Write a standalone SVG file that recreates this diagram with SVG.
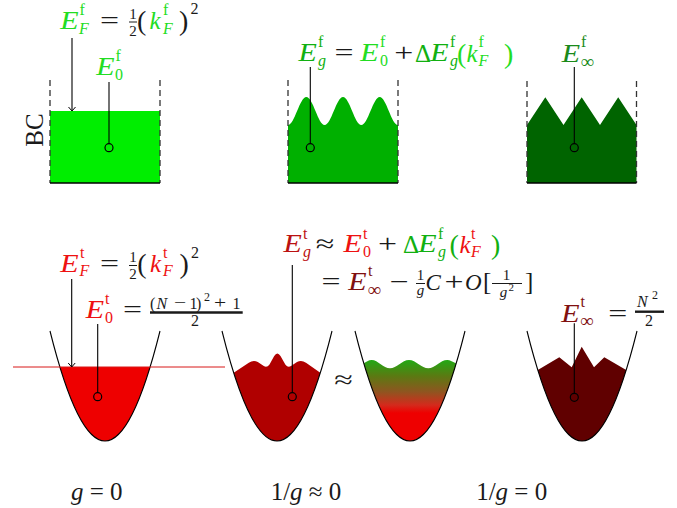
<svg xmlns="http://www.w3.org/2000/svg" width="677" height="508" viewBox="0 0 677 508">
<style>
text{font-family:"Liberation Serif","Times New Roman",serif;font-size:25px;fill:#1a1a1a}
.s{font-size:16px}
.f{font-size:15px}
.p{font-size:28px}
.inf{font-size:19px}
.c{font-size:23px}
.i{font-style:italic}
.w{transform-box:fill-box;transform-origin:left center;transform:scaleX(1.2)}
.o{transform-box:fill-box;transform-origin:center;transform:scaleX(1.35)}
.g1{fill:#22dd22}.g2{fill:#11b011}.g3{fill:#1a8a1a}
.r1{fill:#ee1111}.r2{fill:#bb1111}.r3{fill:#801010}
.dash{stroke:#333;stroke-width:1.3;stroke-dasharray:6 4;fill:none}
.base{stroke:#000;stroke-width:1.4}
.ln{stroke:#000;stroke-width:1.1;fill:none}
.dot{fill:none;stroke:#000;stroke-width:1.2}
.bar{stroke:#1a1a1a;stroke-width:1}
.tbar{stroke:#1a1a1a;stroke-width:2.4}
.well{fill:none;stroke:#000;stroke-width:1.1}
</style>
<defs>
<marker id="ah" markerWidth="10" markerHeight="10" refX="5" refY="5" orient="auto" markerUnits="userSpaceOnUse">
<path d="M1 1.5 L5 5 L1 8.5" fill="none" stroke="#000" stroke-width="1"/>
</marker>
<linearGradient id="grad" gradientUnits="userSpaceOnUse" x1="0" y1="360" x2="0" y2="413">
<stop offset="0" stop-color="#22a815"/>
<stop offset="0.3" stop-color="#5a7a12"/>
<stop offset="0.6" stop-color="#8f5520"/>
<stop offset="0.85" stop-color="#d42a1c"/>
<stop offset="1" stop-color="#ee0000"/>
</linearGradient>
</defs>

<text x="42.5" y="130" text-anchor="middle" transform="rotate(-90 42.5 130)">BC</text>

<g id="box-free">
<rect x="50" y="111" width="110" height="72" fill="#00ee00"/>
<line class="dash" x1="50" y1="80" x2="50" y2="183"/>
<line class="dash" x1="160" y1="80" x2="160" y2="183"/>
<line class="base" x1="50" y1="183" x2="160" y2="183"/>
<text class="i g1 w" x="60" y="29">E</text><text class="s g1" x="79.5" y="15">f</text><text class="s i g1" x="79" y="34">F</text>
<text class="o" x="109.5" y="29" text-anchor="middle">=</text>
<text class="f" x="133" y="19" text-anchor="middle">1</text><line class="bar" x1="129" y1="22" x2="137" y2="22"/><text class="f" x="133" y="36" text-anchor="middle">2</text>
<text class="p" x="137" y="30">(</text><text class="i g1" x="149.5" y="29">k</text><text class="s g1" x="163" y="15">f</text><text class="s i g1" x="163" y="34">F</text><text class="p" x="179" y="30">)</text><text class="s" x="190.5" y="14">2</text>
<text class="i g1 w" x="96" y="75">E</text><text class="s g1" x="115.5" y="61">f</text><text class="s g1" x="115" y="80">0</text>
</g>

<g id="box-g">
<path d="M288 183 L288 125 C294.6 125 299.7 97 306.33 97 C313 97 318.1 125 324.67 125 C331.3 125 336.4 97 343 97 C349.6 97 354.7 125 361.33 125 C368 125 373.1 97 379.67 97 C386.3 97 391.4 125 398 125 L398 183 Z" fill="#00b000"/>
<line class="dash" x1="288" y1="80" x2="288" y2="183"/>
<line class="dash" x1="398" y1="80" x2="398" y2="183"/>
<line class="base" x1="288" y1="183" x2="398" y2="183"/>
<text class="i g2 w" x="298.3" y="61.5">E</text><text class="s g2" x="318" y="47">f</text><text class="s i g2" x="318" y="66">g</text>
<text class="o" x="344" y="61.5" text-anchor="middle">=</text>
<text class="i g1 w" x="360" y="61.5">E</text><text class="s g1" x="380" y="47">f</text><text class="s g1" x="380" y="66">0</text>
<text class="o" x="403.8" y="61.5" text-anchor="middle">+</text>
<text class="g2" x="415" y="61.5">Δ</text><text class="i g2 w" x="430" y="61.5">E</text><text class="s g2" x="450" y="47">f</text><text class="s i g2" x="450" y="66">g</text>
<text class="p g1" x="457" y="62.5">(</text><text class="i g1" x="466.5" y="61.5">k</text><text class="s g1" x="478.5" y="47">f</text><text class="s i g1" x="478.5" y="66">F</text><text class="p g1" x="504" y="62.5">)</text>
</g>

<g id="box-inf">
<path d="M527 183 L527 125 L545.3 97.3 L563.5 125 L581.7 97.3 L600 125 L618.2 97.3 L636.5 125 L636.5 183 Z" fill="#006400"/>
<line class="dash" x1="527" y1="81" x2="527" y2="183"/>
<line class="dash" x1="636.5" y1="81" x2="636.5" y2="183"/>
<line class="base" x1="527" y1="183" x2="636.5" y2="183"/>
<text class="i g3 w" x="561.5" y="61.7">E</text><text class="s g3" x="581" y="47">f</text><text class="inf g3" x="580.5" y="68">∞</text>
</g>

<g id="trap-free">
<path d="M59.89 367 Q105 515 150.11 367 Z" fill="#ee0000"/>
<path class="well" d="M50 331 Q105 551 160 331"/>
<line x1="13" y1="367" x2="225" y2="367" stroke="#d81818" stroke-width="1"/>
<text class="i r1 w" x="60" y="271.7">E</text><text class="s r1" x="80" y="258">t</text><text class="s i r1" x="79.5" y="276">F</text>
<text class="o" x="109.5" y="271.7" text-anchor="middle">=</text>
<text class="f" x="133" y="262" text-anchor="middle">1</text><line class="bar" x1="129" y1="265.5" x2="137" y2="265.5"/><text class="f" x="133" y="279" text-anchor="middle">2</text>
<text class="p" x="137.3" y="272.7">(</text><text class="i r1" x="150" y="271.7">k</text><text class="s r1" x="163" y="258">t</text><text class="s i r1" x="163" y="276">F</text><text class="p" x="179.5" y="272.7">)</text><text class="s" x="191" y="258">2</text>
<text class="i r1 w" x="85.5" y="318">E</text><text class="s r1" x="105" y="304">t</text><text class="s r1" x="105" y="323">0</text>
<text class="o" x="132.5" y="318" text-anchor="middle">=</text>
<text class="s" x="150" y="308.5">(</text><text class="s i" x="156.5" y="308.5">N</text><text class="s o" x="180" y="308.5" text-anchor="middle">−</text><text class="s" x="189.5" y="308.5">1</text><text class="s" x="196" y="308.5">)</text><text style="font-size:12px" x="204" y="301">2</text><text class="s o" x="220" y="308.5" text-anchor="middle">+</text><text class="s" x="232.5" y="308.5">1</text>
<line class="tbar" x1="150" y1="312.5" x2="242.7" y2="312.5"/>
<text class="s" x="195" y="326" text-anchor="middle">2</text>
</g>

<g id="trap-g">
<path d="M233.7 372.8 Q277 509.2 320.3 372.8 L306 362.8 Q301.5 359.5 297 362 L291 366 Q288 368.2 285.3 364.5 L280.5 356 Q277.3 350.8 274.2 356 L269.5 364.5 Q266.8 368.2 263.8 366 L257.8 362 Q253.3 359.5 248.8 362.8 Z" fill="#b00000"/>
<path class="well" d="M222 331 Q277 551 332 331"/>
<text class="i r2 w" x="283.3" y="252.5">E</text><text class="s r2" x="303" y="239">t</text><text class="s i r2" x="303" y="257">g</text>
<text class="o" x="325" y="252.5" text-anchor="middle">≈</text>
<text class="i r1 w" x="343.3" y="252.5">E</text><text class="s r1" x="363" y="239">t</text><text class="s r1" x="363" y="257">0</text>
<text class="o" x="387.5" y="252.5" text-anchor="middle">+</text>
<text class="g2" x="403" y="252.5">Δ</text><text class="i g2 w" x="418" y="252.5">E</text><text class="s g2" x="438" y="239">f</text><text class="s i g2" x="438" y="257">g</text>
<text class="p g2" x="449.5" y="253.5">(</text><text class="i r1" x="459.5" y="252.5">k</text><text class="s r1" x="471" y="239">t</text><text class="s i r1" x="471" y="257">F</text><text class="p g2" x="491" y="253.5">)</text>
<text class="o" x="331" y="290" text-anchor="middle">=</text>
<text class="i r3 w" x="348" y="290">E</text><text class="s r3" x="368" y="276">t</text><text class="inf r3" x="367.5" y="296">∞</text>
<text class="o" x="399" y="290" text-anchor="middle">−</text>
<text class="f" x="420.5" y="280" text-anchor="middle">1</text><line class="bar" x1="416" y1="283.5" x2="425" y2="283.5"/><text class="f i" x="420.5" y="295" text-anchor="middle">g</text>
<text class="i c" x="425.5" y="290">C</text>
<text class="o" x="454" y="290" text-anchor="middle">+</text>
<text class="i c" x="465" y="290">O</text>
<text x="483" y="290">[</text>
<text class="f" x="506.5" y="280" text-anchor="middle">1</text><line class="bar" x1="492" y1="283.5" x2="522" y2="283.5"/><text class="f i" x="503.5" y="297" text-anchor="middle">g</text><text style="font-size:11px" x="508.5" y="291">2</text>
<text x="525" y="290">]</text>
</g>

<text id="approx" class="o" x="343.5" y="388" text-anchor="middle">≈</text>

<g id="trap-mix">
<path d="M363.8 363.5 Q410 518.5 456.2 363.5 C453 362 450 360 447.3 360 C440 360 435 368.3 428.3 368.3 C421.6 368.3 416 360 409 360 C402 360 396.6 368.3 390 368.3 C383.4 368.3 378 360 371.7 360 C368.5 360 366 362 363.8 363.5 Z" fill="url(#grad)"/>
<path class="well" d="M355 331 Q410 551 465 331"/>
</g>

<g id="trap-inf">
<path d="M537.8 370 Q582 512 626.2 370 L604.3 357.3 L594 367.3 L581.7 346.7 L571.7 367.3 L559.3 357.3 Z" fill="#600000"/>
<path class="well" d="M527 331 Q582 551 637 331"/>
<text class="i r3 w" x="561" y="321.7">E</text><text class="s r3" x="580.5" y="307">t</text><text class="inf r3" x="580" y="327">∞</text>
<text class="o" x="617.8" y="321.7" text-anchor="middle">=</text>
<text class="s i" x="637" y="306.5">N</text><text style="font-size:12px" x="652" y="299">2</text>
<line class="tbar" x1="635" y1="311.7" x2="664" y2="311.7"/>
<text class="s" x="649" y="326" text-anchor="middle">2</text>
</g>

<g id="connectors">
<line class="ln" x1="72" y1="38" x2="72" y2="111" marker-end="url(#ah)"/>
<line class="ln" x1="109" y1="82" x2="109" y2="143.7"/>
<circle class="dot" cx="109" cy="147.7" r="4"/>
<line class="ln" x1="310.3" y1="67" x2="310.3" y2="143.7"/>
<circle class="dot" cx="310.3" cy="147.7" r="4"/>
<line class="ln" x1="574.3" y1="67" x2="574.3" y2="143.7"/>
<circle class="dot" cx="574.3" cy="147.7" r="4"/>
<line class="ln" x1="71.7" y1="279" x2="71.7" y2="367" marker-end="url(#ah)"/>
<line class="ln" x1="97.7" y1="324" x2="97.7" y2="392.7"/>
<circle class="dot" cx="97.7" cy="396.7" r="4"/>
<line class="ln" x1="292.3" y1="265" x2="292.3" y2="392.7"/>
<circle class="dot" cx="292.3" cy="396.7" r="4"/>
<line class="ln" x1="574.3" y1="323.3" x2="574.3" y2="393.3"/>
<circle class="dot" cx="574.3" cy="397.3" r="4"/>
</g>

<text x="96.7" y="500" text-anchor="middle"><tspan class="i">g</tspan> = 0</text>
<text x="306" y="500" text-anchor="middle">1/<tspan class="i">g</tspan> ≈ 0</text>
<text x="511.7" y="500" text-anchor="middle">1/<tspan class="i">g</tspan> = 0</text>
</svg>
